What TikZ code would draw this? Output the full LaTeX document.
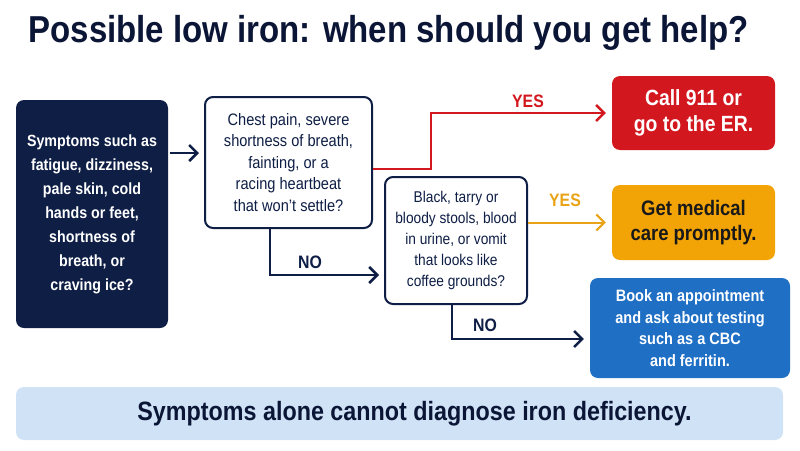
\documentclass[tikz,border=0pt]{standalone}
\usepackage{fontspec}
\setmainfont[FakeStretch=0.88]{Liberation Sans}
\usetikzlibrary{arrows.meta,positioning}
\definecolor{navy}{HTML}{0E1E45}
\definecolor{inkblue}{HTML}{0B1535}
\definecolor{alarmred}{HTML}{D3171E}
\definecolor{careorange}{HTML}{F2A407}
\definecolor{labelorange}{HTML}{E8A317}
\definecolor{bookblue}{HTML}{1F6FC5}
\definecolor{notebg}{HTML}{CFE2F6}

\begin{document}
\begin{tikzpicture}[x=1pt,y=-1pt,>={Straight Barb[length=8pt,width=16pt]},
  box/.style={rounded corners=8pt,align=center,inner sep=0pt},
  ask/.style={box,draw=navy,line width=2pt,fill=white,text=navy},
  outcome/.style={box,font=\bfseries\fontsize{22}{26}\selectfont},
  flow/.style={->,line width=2.5pt,navy},
  answer/.style={font=\bfseries\fontsize{18}{18}\selectfont}]
  \useasboundingbox (0,0) rectangle (800,450);
  % title
  \node[anchor=base west,text=inkblue,font=\bfseries\fontsize{37.5}{40}\selectfont] (title) at (25,42) {Possible low iron: when should you get help?};
  % start and questions
  \node[box,fill=navy,text=white,minimum width=152pt,minimum height=228pt,font=\bfseries\fontsize{16.2}{24}\selectfont] (sym) at (92,214)
    {Symptoms such as\\fatigue, dizziness,\\pale skin, cold\\hands or feet,\\shortness of\\breath, or\\craving ice?};
  \node[ask,minimum width=167pt,minimum height=131pt,font=\fontsize{16.6}{21.5}\selectfont] (q1) at (288.5,162.5)
    {Chest pain, severe\\shortness of breath,\\fainting, or a\\racing heartbeat\\that won’t settle?};
  \node[ask,minimum width=142pt,minimum height=127pt,font=\fontsize{15.6}{21}\selectfont] (q2) at (456,240.5)
    {Black, tarry or\\bloody stools, blood\\in urine, or vomit\\that looks like\\coffee grounds?};
  % outcomes
  \node[outcome,fill=alarmred,text=white,minimum width=163pt,minimum height=74pt] (er) at (693.5,113)
    {Call 911 or\\go to the ER.};
  \node[outcome,fill=careorange,text=black!90,minimum width=163pt,minimum height=75pt,font=\bfseries\fontsize{21}{25}\selectfont] (care) at (693.5,222.5)
    {Get medical\\care promptly.};
  \node[outcome,fill=bookblue,text=white,minimum width=200pt,minimum height=100pt,font=\bfseries\fontsize{16.5}{21.7}\selectfont] (book) at (690,328)
    {Book an appointment\\and ask about testing\\such as a CBC\\and ferritin.};
  \node[box,fill=notebg,text=inkblue,minimum width=767pt,minimum height=53pt,font=\bfseries\fontsize{26.5}{28}\selectfont] (note) at (399.5,413.5)
    {\hspace*{30pt}Symptoms alone cannot diagnose iron deficiency.};
  % connectors
  \draw[flow,shorten <=2pt,shorten >=5pt] (sym.east |- 0,153) -- (q1.west |- 0,153);
  \draw[flow,alarmred,shorten >=6pt] ([yshift=-6.5pt]q1.east) -- ++(58,0) |- (er.west);
  \node[answer,text=alarmred] (yes1) at (528,101) {YES};
  \draw[flow,shorten >=5pt] ([xshift=-18.5pt]q1.south) |- ([yshift=-34.5pt]q2.west);
  \node[answer,text=navy] (no1) at (310,262) {NO};
  \draw[flow,labelorange,line width=2pt,shorten >=6pt] (care.west -| q2.east) -- (care.west);
  \node[answer,text=labelorange] (yes2) at (565,200) {YES};
  \draw[flow,shorten >=6pt] ([xshift=-4pt]q2.south) |- ([yshift=-11pt]book.west);
  \node[answer,text=navy] (no2) at (485,325) {NO};
\end{tikzpicture}
\end{document}
